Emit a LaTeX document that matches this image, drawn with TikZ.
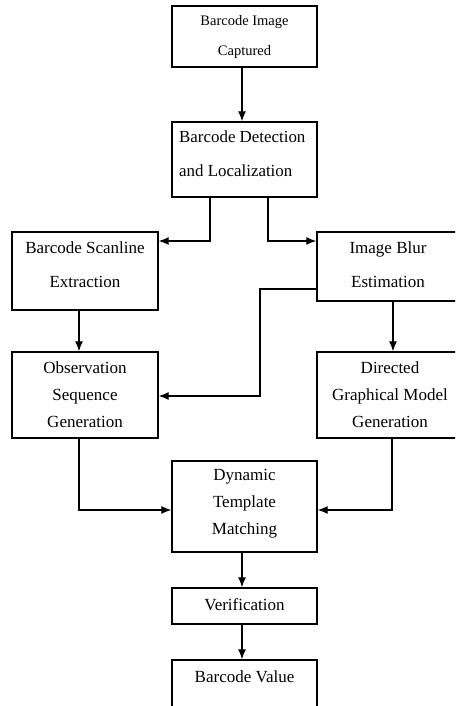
\documentclass[tikz,border=0pt]{standalone}
\usepackage{fontspec}
\setmainfont{Liberation Serif}
\usetikzlibrary{arrows.meta,calc}
\tikzset{
  box/.style={draw, line width=1.4pt, rectangle, inner sep=0pt},
  txt/.style={inner sep=0pt, align=center, font=\fontsize{17}{27}\selectfont},
  arr/.style={line width=1.3pt, -{Latex[length=10pt,width=8pt]}},
  ln/.style={line width=1.3pt}
}
\begin{document}
\begin{tikzpicture}[x=1pt,y=-1pt]
\useasboundingbox (0,0) rectangle (455,706);
\clip (0,0) rectangle (455,706);
\fill[white] (0,0) rectangle (455,706);
% boxes
\node[box, minimum width=145pt, minimum height=61pt] (b1) at (244.5,36.5) {};
\node[box, minimum width=145pt, minimum height=75pt] (b2) at (244.5,159.5) {};
\node[box, minimum width=146pt, minimum height=78pt] (b3) at (85,271) {};
\node[box, minimum width=146pt, minimum height=69pt] (b4) at (390,266.5) {};
\node[box, minimum width=146pt, minimum height=86pt] (b5) at (85,395) {};
\node[box, minimum width=146pt, minimum height=86pt] (b6) at (390,395) {};
\node[box, minimum width=145pt, minimum height=91pt] (b7) at (244.5,506.5) {};
\node[box, minimum width=145pt, minimum height=36pt] (b8) at (244.5,606) {};
\node[box, minimum width=145pt, minimum height=70pt] (b9) at (244.5,695) {};
% texts
\node[txt, font=\fontsize{14.5}{30}\selectfont] (t1) at (244.5,37) {Barcode Image\\Captured};
\node[txt, align=left, anchor=west, font=\fontsize{16.9}{34}\selectfont] (t2) at (179,154) {Barcode Detection\\and Localization};
\node[txt, font=\fontsize{17}{34}\selectfont] (t3) at (85,265) {Barcode Scanline\\Extraction};
\node[txt, font=\fontsize{17}{34}\selectfont] (t4) at (388,265) {Image Blur\\Estimation};
\node[txt] (t5) at (85,395) {Observation\\Sequence\\Generation};
\node[txt] (t6) at (390,395) {Directed\\Graphical Model\\Generation};
\node[txt] (t7) at (244.5,504) {Dynamic\\Template\\Matching};
\node[txt] (t8) at (244.5,605) {Verification};
\node[txt] (t9) at (244.5,677) {Barcode Value};
% helper coordinates
\coordinate (k1) at (210,241);
\coordinate (k2) at (268,241);
\coordinate (k3) at (260,289);
\coordinate (k4) at (260,396);
\coordinate (k5) at (79,0);
\coordinate (k6) at (393,0);
\coordinate (k7) at (79,510);
\coordinate (k8) at (392,510);
\coordinate (k9) at (242,0);
% connectors
\draw[arr] (b1.south -| k9) -- (b2.north -| k9);
\draw[arr] (b2.south -| k1) |- (b3.east |- k1);
\draw[arr] (b2.south -| k2) |- (b4.west |- k2);
\draw[arr] (b4.west |- k3) -- (k3) -- (k4) -- (b5.east |- k4);
\draw[arr] (b3.south -| k5) -- (b5.north -| k5);
\draw[arr] (b4.south -| k6) -- (b6.north -| k6);
\draw[arr] (b5.south -| k7) -- (k7) -- (b7.west |- k7);
\draw[arr] (b6.south -| k8) -- (k8) -- (b7.east |- k8);
\draw[arr] (b7.south -| k9) -- (b8.north -| k9);
\draw[arr] (b8.south -| k9) -- (b9.north -| k9);
\end{tikzpicture}
\end{document}
